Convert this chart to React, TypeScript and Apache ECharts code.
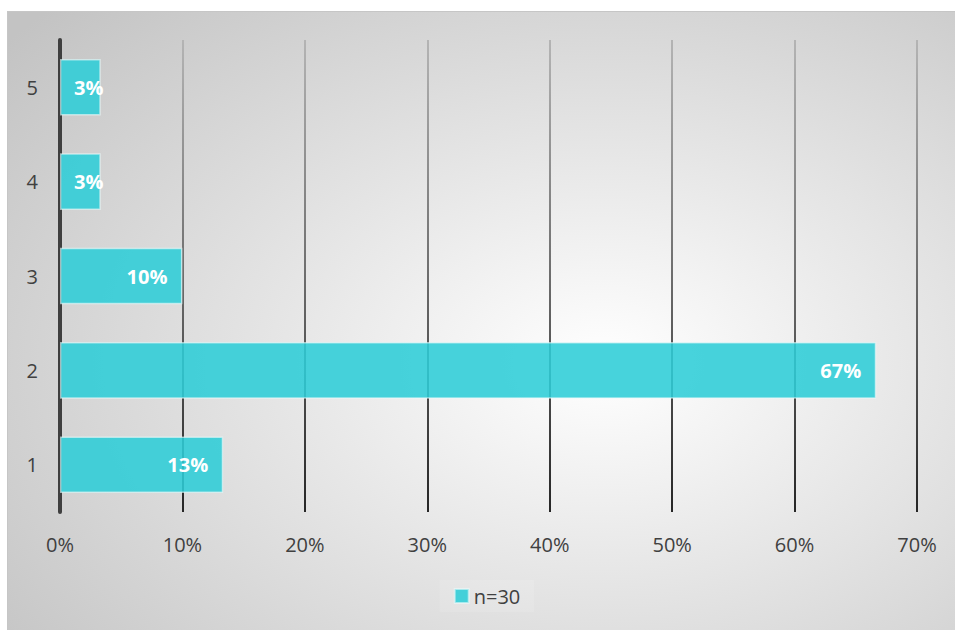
import React, { useEffect, useRef } from "react";
import * as echarts from "echarts";

const categories: string[] = ["1", "2", "3", "4", "5"];
const seriesName = "n=30";
const values: number[] = [13.33, 66.67, 10, 3.33, 3.33];
const xTicks = { min: 0, max: 70, interval: 10 };

export default function App() {
  const ref = useRef<HTMLDivElement>(null);

  useEffect(() => {
    if (!ref.current) return;
    const chart = echarts.init(ref.current, undefined, { renderer: "svg" });
    const font = "'Open Sans', 'Noto Sans', sans-serif";
    const gridTop = 28;
    const gridHeight = 472;

    const data = values.map((v) =>
      v < 5
        ? { value: v, label: { position: "insideLeft", distance: 14 } }
        : { value: v }
    );

    chart.setOption({
      animation: false,
      graphic: [
        {
          type: "rect",
          z: -100,
          silent: true,
          shape: { x: 0, y: 0, width: 960, height: 640 },
          style: {
            fill: {
              type: "radial",
              x: 0.62,
              y: 0.55,
              r: 0.8,
              colorStops: [
                { offset: 0, color: "#ffffff" },
                { offset: 1, color: "#c3c3c3" },
              ],
            },
          },
        },
      ],
      grid: { left: 52, top: gridTop, width: 857, height: gridHeight, containLabel: false },
      legend: {
        data: [seriesName],
        top: 568,
        left: "center",
        icon: "rect",
        itemWidth: 14,
        itemHeight: 14,
        itemGap: 6,
        padding: [6, 14, 6, 14],
        backgroundColor: "rgba(255,255,255,0.12)",
        textStyle: { fontFamily: font, fontSize: 20, color: "#404040" },
      },
      xAxis: {
        type: "value",
        min: xTicks.min,
        max: xTicks.max,
        interval: xTicks.interval,
        axisLine: { show: false },
        axisTick: { show: false },
        axisLabel: {
          formatter: (v: number) => `${v}%`,
          fontFamily: font,
          fontSize: 20,
          color: "#404040",
          margin: 22,
        },
        splitLine: {
          show: true,
          lineStyle: {
            width: 2,
            color: {
              type: "linear",
              global: true,
              x: 0,
              y: gridTop,
              x2: 0,
              y2: gridTop + gridHeight,
              colorStops: [
                { offset: 0, color: "#b4b4b4" },
                { offset: 1, color: "#262626" },
              ],
            },
          },
        },
      },
      yAxis: {
        type: "category",
        data: categories,
        axisLine: { show: true, lineStyle: { color: "#3f3f3f", width: 4 } },
        axisTick: { show: false },
        axisLabel: {
          fontFamily: font,
          fontSize: 20,
          color: "#404040",
          margin: 22,
        },
        splitLine: { show: false },
      },
      series: [
        {
          name: seriesName,
          type: "bar",
          data,
          barCategoryGap: "40%",
          itemStyle: {
            color: "rgba(46,205,215,0.88)",
            borderColor: "rgba(235,250,250,0.6)",
            borderWidth: 1.5,
          },
          label: {
            show: true,
            position: "insideRight",
            distance: 15,
            formatter: (p: any) => `${Math.round(p.value)}%`,
            color: "#ffffff",
            fontFamily: font,
            fontWeight: "bold",
            fontSize: 20,
          },
        },
      ],
    });

    return () => chart.dispose();
  }, []);

  return (
    <div
      style={{
        position: "fixed",
        left: 0,
        top: 0,
        width: 955,
        height: 630,
        overflow: "hidden",
        background: "#ffffff",
      }}
    >
      <div
        style={{
          position: "absolute",
          left: 7,
          top: 11,
          width: 960,
          height: 640,
          border: "1px solid #c6c6c6",
          boxSizing: "border-box",
        }}
      >
        <div ref={ref} style={{ width: 958, height: 638 }} />
      </div>
    </div>
  );
}
